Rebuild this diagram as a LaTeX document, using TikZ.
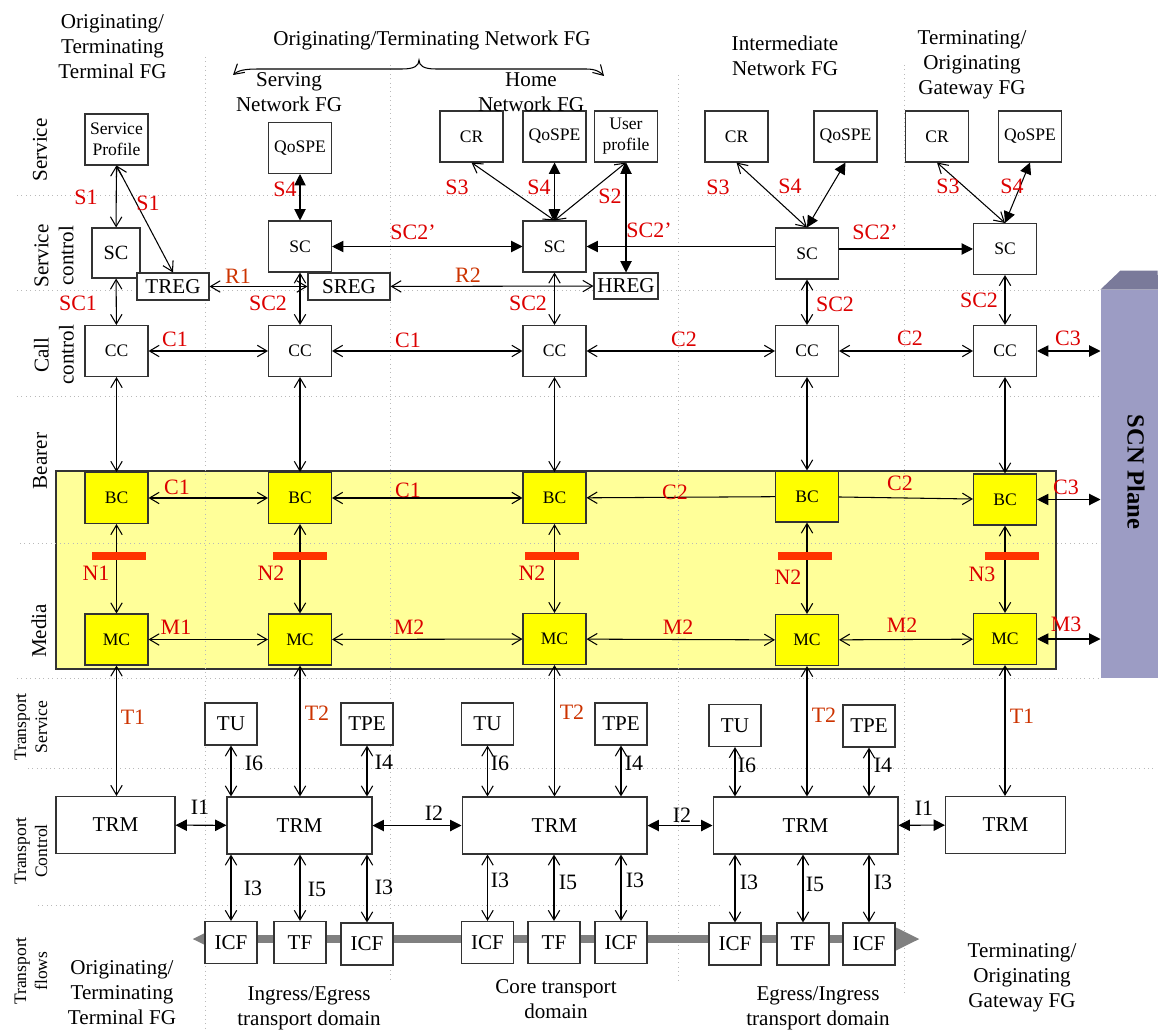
\documentclass[tikz,border=0pt]{standalone}
\usepackage{fontspec}
\setmainfont{Liberation Serif}
\usepackage{tikz}
\usetikzlibrary{arrows.meta}

\definecolor{labred}{RGB}{220,0,0}
\definecolor{labora}{RGB}{204,51,0}
\definecolor{nred}{RGB}{255,51,0}
\definecolor{mediaylw}{RGB}{255,255,153}
\definecolor{boxylw}{RGB}{255,255,0}
\definecolor{scnfill}{RGB}{156,156,196}
\definecolor{scntop}{RGB}{122,122,154}
\definecolor{flowgray}{RGB}{128,128,128}
\definecolor{boxline}{RGB}{51,51,51}

\begin{document}
\begin{tikzpicture}[x=0.02cm, y=-0.02cm, line width=0.6pt,
  >={Straight Barb[length=5.5pt,width=6.5pt]},
  box/.style={draw=boxline, fill=white, inner sep=0pt, align=center,
    minimum width=1.26cm, minimum height=1.02cm, font=\fontsize{10}{12}\selectfont},
  ybox/.style={box, fill=boxylw},
  tbox/.style={box, minimum width=1.04cm, minimum height=0.84cm, font=\fontsize{12}{14}\selectfont},
  reg/.style={box, minimum height=0.54cm, font=\fontsize{12}{14}\selectfont},
  trm/.style={box, minimum height=1.14cm, font=\fontsize{12}{14}\selectfont},
  lab/.style={text=labred, inner sep=0pt, font=\fontsize{12.5}{14}\selectfont},
  olab/.style={lab, text=labora},
  ilab/.style={inner sep=0pt, font=\fontsize{12.5}{14}\selectfont},
  hdr/.style={align=center, inner sep=0pt, font=\fontsize{12}{14.2}\selectfont},
  layer/.style={hdr, rotate=90},
  tlayer/.style={layer, font=\fontsize{10}{12}\selectfont},
  gridline/.style={draw=gray!55, dotted, line width=0.5pt},
  nbar/.style={fill=nred, inner sep=0pt, minimum width=1.08cm, minimum height=0.16cm},
  scn/.style={fill=scnfill, inner sep=0pt, minimum width=1.14cm, minimum height=7.76cm},
  flow/.style={draw=flowgray, line width=4pt,
    arrows={Triangle[length=14.8pt,width=13pt]-Triangle[length=14.8pt,width=13pt]}},
  fdbl/.style={arrows={Triangle[length=6.5pt,width=6.5pt]-Triangle[length=6.5pt,width=6.5pt]}},
  fto/.style={arrows={-Triangle[length=6.5pt,width=6.5pt]}}]

  \useasboundingbox (0,0) rectangle (1158,1030);

  % media plane
  \draw[draw=boxline, fill=mediaylw] (56,471) rectangle (1056,669);

  % grid
  \draw[gridline] (17,195) -- (1155,195);
  \draw[gridline] (17,290) -- (1101,290);
  \draw[gridline] (17,396) -- (1101,396);
  \draw[gridline] (20,543) -- (1101,543);
  \draw[gridline] (17,678) -- (1101,678);
  \draw[gridline] (28,768) -- (1155,768);
  \draw[gridline] (38,905) -- (722,905);
  \draw[gridline] (205,57) -- (205,1030);
  \draw[gridline] (390,65) -- (390,983);
  \draw[gridline] (678,75) -- (678,983);
  \draw[gridline] (904,65) -- (904,992);

  % transport flow
  \coordinate (flowL) at (192,939);
  \coordinate (flowR) at (920,939);
  \draw[flow] (flowL) -- (flowR);

  % service
  \node[box] (sp) at (116.5,139.5) {Service\\Profile};
  \node[box] (qos1) at (300,148) {QoSPE};
  \node[box] (cr1) at (471.5,136.5) {CR};
  \node[box] (qos2) at (554.5,136.5) {QoSPE};
  \node[box] (up) at (626,136.5) {User\\profile};
  \node[box] (cr2) at (736.5,136.5) {CR};
  \node[box] (qos3) at (845.5,136.5) {QoSPE};
  \node[box] (cr3) at (937,136.5) {CR};
  \node[box] (qos4) at (1030,136.5) {QoSPE};

  % service control
  \node[box, minimum width=0.96cm, minimum height=1cm, font=\fontsize{11.5}{14}\selectfont] (sc1) at (116,253) {SC};
  \node[reg, minimum width=1.44cm] (treg) at (173,286.5) {TREG};
  \node[box] (sc2) at (300,246.5) {SC};
  \node[reg, minimum width=1.64cm] (sreg) at (349,286.5) {SREG};
  \node[box] (sc3) at (554.5,246.5) {SC};
  \node[reg, minimum width=1.28cm, minimum height=0.52cm] (hreg) at (626,286) {HREG};
  \node[box] (sc4) at (807,253.5) {SC};
  \node[box] (sc5) at (1005,249) {SC};

  % call control
  \node[box] (cc1) at (116.5,351) {CC};
  \node[box] (cc2) at (300,351) {CC};
  \node[box] (cc3) at (554.5,351) {CC};
  \node[box] (cc4) at (807,351) {CC};
  \node[box] (cc5) at (1005,351) {CC};

  % bearer
  \node[ybox] (bc1) at (116.5,498) {BC};
  \node[ybox] (bc2) at (300,498) {BC};
  \node[ybox] (bc3) at (554.5,498) {BC};
  \node[ybox] (bc4) at (807,496.5) {BC};
  \node[ybox] (bc5) at (1005,499.5) {BC};

  % media
  \node[ybox] (mc1) at (116.5,639.5) {MC};
  \node[ybox] (mc2) at (300,639.5) {MC};
  \node[ybox] (mc3) at (554.5,639) {MC};
  \node[ybox] (mc4) at (807,640) {MC};
  \node[ybox] (mc5) at (1005,639) {MC};

  % transport service
  \node[tbox] (tu1) at (231,724) {TU};
  \node[tbox] (tpe1) at (367,724) {TPE};
  \node[tbox] (tu2) at (487.5,724) {TU};
  \node[tbox] (tpe2) at (621,724) {TPE};
  \node[tbox] (tu3) at (735,725.5) {TU};
  \node[tbox] (tpe3) at (869,726) {TPE};

  % transport control
  \node[trm, minimum width=2.38cm] (trm1) at (115.5,825) {TRM};
  \node[trm, minimum width=2.9cm] (trm2) at (299.5,825.5) {TRM};
  \node[trm, minimum width=3.7cm] (trm3) at (554.5,825.5) {TRM};
  \node[trm, minimum width=3.7cm] (trm4) at (805.5,825.5) {TRM};
  \node[trm, minimum width=2.4cm] (trm5) at (1005.5,825) {TRM};

  % transport flows
  \node[tbox] (icf1) at (231,942.5) {ICF};
  \node[tbox] (tf1) at (300,942.5) {TF};
  \node[tbox] (icf2) at (367,944) {ICF};
  \node[tbox] (icf3) at (487.5,942.5) {ICF};
  \node[tbox] (tf2) at (554,942.5) {TF};
  \node[tbox] (icf4) at (621,942.5) {ICF};
  \node[tbox] (icf5) at (735,944) {ICF};
  \node[tbox] (tf3) at (803,944) {TF};
  \node[tbox] (icf6) at (869,944) {ICF};

  % SCN plane
  \node[scn] (scn) at (1129.5,484) {};
  \fill[scntop] (scn.north west) -- ++(20,-19) -- ++(37,0) -- (scn.north east) -- cycle;
  \node[rotate=-90, inner sep=0pt, font=\fontsize{14}{16}\selectfont\bfseries] (scnlbl) at (1136,472) {SCN Plane};

  % service links
  \path (sp) edge[<->] (sc1);
  \path (sp.south) edge[<->] (treg.north);
  \path (qos1) edge[fdbl] (sc2);
  \path (cr1.south) edge[<->] (sc3.north);
  \path (qos2) edge[fdbl] (sc3);
  \path (up.south) edge[<->] (sc3.north);
  \path (up) edge[fdbl] (hreg);
  \path (cr2.south) edge[<->] (sc4.north);
  \path (qos3.south) edge[fdbl] (sc4.north);
  \path (cr3.south) edge[<->] (sc5.north);
  \path (qos4.south) edge[fdbl] (sc5.north);

  % service control links
  \path (treg) edge[<->] (sreg);
  \path (sreg) edge[<->] (hreg);
  \path (sc2) edge[fdbl] (sc3);
  \path (sc4.west |- sc3) edge[fto] (sc3);
  \path (sc4.east |- sc5) edge[fto] (sc5);
  \path (sc1) edge[<->] (cc1);
  \path (sc2) edge[<->] (cc2);
  \path (sc3) edge[<->] (cc3);
  \path (sc4) edge[<->] (cc4);
  \path (sc5) edge[<->] (cc5);

  % call control links
  \path (cc1) edge[<->] (cc2);
  \path (cc2) edge[<->] (cc3);
  \path (cc3) edge[<->] (cc4);
  \path (cc4) edge[<->] (cc5);
  \path (cc5) edge[fdbl] (cc5 -| scn.west);
  \path (cc1) edge[<->] (bc1);
  \path (cc2) edge[<->] (bc2);
  \path (cc3) edge[<->] (bc3);
  \path (cc4) edge[<->] (bc4);
  \path (cc5) edge[<->] (bc5);

  % bearer links
  \path (bc1) edge[<->] (bc2);
  \path (bc2) edge[<->] (bc3);
  \path (bc4) edge[->] (bc3);
  \path (bc4) edge[->] (bc5);
  \path (bc5) edge[fdbl] (bc5 -| scn.west);
  \path (bc1) edge[<->] (mc1);
  \path (bc2) edge[<->] (mc2);
  \path (bc3) edge[<->] (mc3);
  \path (bc4) edge[<->] (mc4);
  \path (bc5) edge[<->] (mc5);

  % media links
  \path (mc1) edge[<->] (mc2);
  \path (mc2) edge[<->] (mc3);
  \path (mc3) edge[<->] (mc4);
  \path (mc4) edge[<->] (mc5);
  \path (mc5) edge[fdbl] (mc5 -| scn.west);
  \path (mc1) edge[<->] (mc1 |- trm1.north);
  \path (mc2) edge[<->] (mc2 |- trm2.north);
  \path (mc3) edge[<->] (mc3 |- trm3.north);
  \path (mc4) edge[<->] (mc4 |- trm4.north);
  \path (mc5) edge[<->] (mc5 |- trm5.north);

  % transport links
  \path (tu1) edge[<->] (tu1 |- trm2.north);
  \path (tpe1) edge[<->] (tpe1 |- trm2.north);
  \path (tu2) edge[<->] (tu2 |- trm3.north);
  \path (tpe2) edge[<->] (tpe2 |- trm3.north);
  \path (tu3) edge[<->] (tu3 |- trm4.north);
  \path (tpe3) edge[<->] (tpe3 |- trm4.north);
  \path (trm1) edge[fdbl] (trm2);
  \path (trm2) edge[fdbl] (trm3);
  \path (trm3) edge[fdbl] (trm4);
  \path (trm4) edge[fdbl] (trm5);
  \path (icf1) edge[<->] (icf1 |- trm2.south);
  \path (tf1) edge[<->] (tf1 |- trm2.south);
  \path (icf2) edge[<->] (icf2 |- trm2.south);
  \path (icf3) edge[<->] (icf3 |- trm3.south);
  \path (tf2) edge[<->] (tf2 |- trm3.south);
  \path (icf4) edge[<->] (icf4 |- trm3.south);
  \path (icf5) edge[<->] (icf5 |- trm4.south);
  \path (tf3) edge[<->] (tf3 |- trm4.south);
  \path (icf6) edge[<->] (icf6 |- trm4.south);

  % N bars
  \node[nbar] (nb1) at (119,556) {};
  \node[nbar] (nb2) at (299.5,556) {};
  \node[nbar] (nb3) at (552,556) {};
  \node[nbar] (nb4) at (804.5,556) {};
  \node[nbar] (nb5) at (1011.5,556) {};

  % brace
  \draw[<->] (233,75) .. controls (240,69) and (250,69) .. (262,69) -- (402,69)
    .. controls (414,69) and (419,66) .. (419,60) .. controls (419,66) and (424,69) .. (436,69)
    -- (586,69) .. controls (596,69) and (600,72) .. (604,76);

  % labels
  \node[lab] (s1a) at (86,197) {S1};
  \node[lab] (s1b) at (148,203) {S1};
  \node[lab] (s4a) at (285,189) {S4};
  \node[lab] (sc1l) at (78,303) {SC1};
  \node[olab] (r1) at (238,276) {R1};
  \node[lab] (sc2la) at (268,303) {SC2};
  \node[lab] (s3a) at (457,187) {S3};
  \node[lab] (s4b) at (539,187) {S4};
  \node[lab] (s2) at (610,196) {S2};
  \node[lab] (sc2pa) at (413,232) {SC2’};
  \node[lab] (sc2pb) at (649,230) {SC2’};
  \node[olab] (r2) at (468,275) {R2};
  \node[lab] (sc2lb) at (528,303) {SC2};
  \node[lab] (s3b) at (718,187) {S3};
  \node[lab] (s4c) at (790,186) {S4};
  \node[lab] (sc2pc) at (875,232) {SC2’};
  \node[lab] (s3c) at (948,186) {S3};
  \node[lab] (s4d) at (1012,186) {S4};
  \node[lab] (sc2lc) at (835,304) {SC2};
  \node[lab] (sc2ld) at (979,300) {SC2};

  \node[lab] (c1a) at (175,339) {C1};
  \node[lab] (c1b) at (408,340) {C1};
  \node[lab] (c2a) at (684,339) {C2};
  \node[lab] (c2b) at (910,338) {C2};
  \node[lab] (c3a) at (1068,338) {C3};
  \node[lab] (c1c) at (177,487) {C1};
  \node[lab] (c1d) at (408,490) {C1};
  \node[lab] (c2c) at (675,492) {C2};
  \node[lab] (c2d) at (900,483) {C2};
  \node[lab] (c3b) at (1066,487) {C3};

  \node[lab] (n1) at (96,573) {N1};
  \node[lab] (n2a) at (271,573) {N2};
  \node[lab] (n2b) at (532,573) {N2};
  \node[lab] (n2c) at (788,577) {N2};
  \node[lab] (n3) at (982,574) {N3};
  \node[lab] (m1) at (176,627) {M1};
  \node[lab] (m2a) at (409,627) {M2};
  \node[lab] (m2b) at (678,627) {M2};
  \node[lab] (m2c) at (902,625) {M2};
  \node[lab] (m3) at (1066,624) {M3};

  \node[olab] (t1a) at (133,717) {T1};
  \node[olab] (t2a) at (317,713) {T2};
  \node[olab] (t2b) at (572,712) {T2};
  \node[olab] (t2c) at (824,715) {T2};
  \node[olab] (t1b) at (1022,716) {T1};

  \node[ilab] (i6a) at (254,763) {I6};
  \node[ilab] (i4a) at (384,762) {I4};
  \node[ilab] (i6b) at (500,763) {I6};
  \node[ilab] (i4b) at (634,763) {I4};
  \node[ilab] (i6c) at (747,765) {I6};
  \node[ilab] (i4c) at (883,765) {I4};
  \node[ilab] (i1a) at (200,807) {I1};
  \node[ilab] (i2a) at (434,813) {I2};
  \node[ilab] (i2b) at (682,815) {I2};
  \node[ilab] (i1b) at (924,808) {I1};
  \node[ilab] (i3a) at (253,888) {I3};
  \node[ilab] (i5a) at (317,889) {I5};
  \node[ilab] (i3b) at (384,887) {I3};
  \node[ilab] (i3c) at (500,880) {I3};
  \node[ilab] (i5b) at (568,882) {I5};
  \node[ilab] (i3d) at (635,880) {I3};
  \node[ilab] (i3e) at (749,882) {I3};
  \node[ilab] (i5c) at (815,884) {I5};
  \node[ilab] (i3f) at (883,882) {I3};

  % headers
  \node[hdr] (fgterm) at (112.5,47) {Originating/\\Terminating\\Terminal FG};
  \node[hdr] (fgnet) at (432,40) {Originating/Terminating Network FG};
  \node[hdr] (fgserv) at (289,92) {Serving\\Network FG};
  \node[hdr] (fghome) at (531,92) {Home\\Network FG};
  \node[hdr] (fginter) at (785,56) {Intermediate\\Network FG};
  \node[hdr] (fggw) at (972,65) {Terminating/\\Originating\\Gateway FG};
  \node[hdr] (fgterm2) at (122,993) {Originating/\\Terminating\\Terminal FG};
  \node[hdr] (domin) at (309,1008) {Ingress/Egress\\transport domain};
  \node[hdr] (domcore) at (556,999) {Core transport\\domain};
  \node[hdr] (domeg) at (818,1008) {Egress/Ingress\\transport domain};
  \node[hdr] (fggw2) at (1022,978) {Terminating/\\Originating\\Gateway FG};

  % layers
  \node[layer] (lsvc) at (40,150) {Service};
  \node[layer] (lsvcc) at (54,256) {Service\\control};
  \node[layer] (lcall) at (54,355) {Call\\control};
  \node[layer] (lbear) at (40,461) {Bearer};
  \node[layer] (lmed) at (39,631) {Media};
  \node[tlayer] (ltsvc) at (31,727) {Transport\\Service};
  \node[tlayer] (ltctl) at (31,851) {Transport\\Control};
  \node[tlayer] (ltflow) at (31,971) {Transport\\flows};
\end{tikzpicture}
\end{document}
